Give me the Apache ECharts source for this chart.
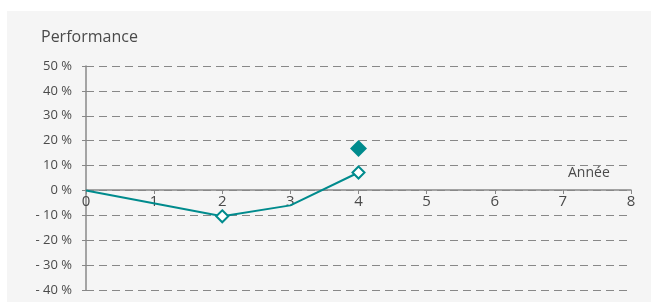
<!DOCTYPE html>
<html>
<head>
<meta charset="utf-8">
<script src="https://cdn.jsdelivr.net/npm/echarts@6/dist/echarts.min.js"></script>
<style>
  html, body { margin: 0; padding: 0; background: #fff; }
  #chart { width: 651px; height: 307px; }
</style>
</head>
<body>
<div id="chart"></div>
<script>
// données
const years = [0, 2, 3, 4];
const perf = [0, -10.4, -6, 7.2];
const withMarker = [false, true, false, true];
const targetYears = [4];
const targetPerf = [16.9];

const teal = '#008b8d';
const grey = '#4a4a4a';
const font = 'Open Sans';

let chart = echarts.init(document.getElementById('chart'));

let lineData = years.map((y, i) => ({
  value: [y, perf[i]],
  symbol: withMarker[i] ? 'diamond' : 'none'
}));

let option = {
  animation: false,
  textStyle: { fontFamily: font },
  graphic: [
    { type: 'rect', z: -10, shape: { x: 7, y: 11, width: 644, height: 291 }, style: { fill: '#f5f5f5' } },
    { type: 'text', left: 41, top: 29, style: { text: 'Performance', fontSize: 16, fill: grey, fontFamily: font } },
    { type: 'text', left: 568, top: 166, style: { text: 'Année', fontSize: 14, fill: grey, fontFamily: font } }
  ],
  grid: { left: 86, right: 20, top: 66, bottom: 17 },
  xAxis: {
    type: 'value',
    min: 0, max: 8, interval: 1,
    offset: -100,
    axisLine: { onZero: false, lineStyle: { color: '#888', width: 1.5 } },
    axisTick: { show: true, length: 4, inside: false, lineStyle: { color: '#888' } },
    axisLabel: { color: grey, fontSize: 15, margin: 4 },
    splitLine: { show: false }
  },
  yAxis: {
    type: 'value',
    min: -40, max: 50, interval: 10,
    axisLine: { show: true, lineStyle: { color: '#888', width: 1.5 } },
    axisTick: { show: true, length: 4, lineStyle: { color: '#888' } },
    axisLabel: {
      color: grey, fontSize: 13, margin: 14,
      formatter: v => (v < 0 ? '- ' + Math.abs(v) : v) + ' %'
    },
    splitLine: { show: true, lineStyle: { color: '#888', type: [8, 5], width: 1 } }
  },
  series: [
    {
      type: 'line',
      data: lineData,
      symbolSize: 12,
      lineStyle: { color: teal, width: 2 },
      itemStyle: { color: '#fff', borderColor: teal, borderWidth: 2 },
      z: 3
    },
    {
      type: 'scatter',
      data: targetYears.map((y, i) => [y, targetPerf[i]]),
      symbol: 'diamond',
      symbolSize: 17,
      itemStyle: { color: teal, opacity: 1 }
    }
  ]
};

chart.setOption(option);
</script>
</body>
</html>
